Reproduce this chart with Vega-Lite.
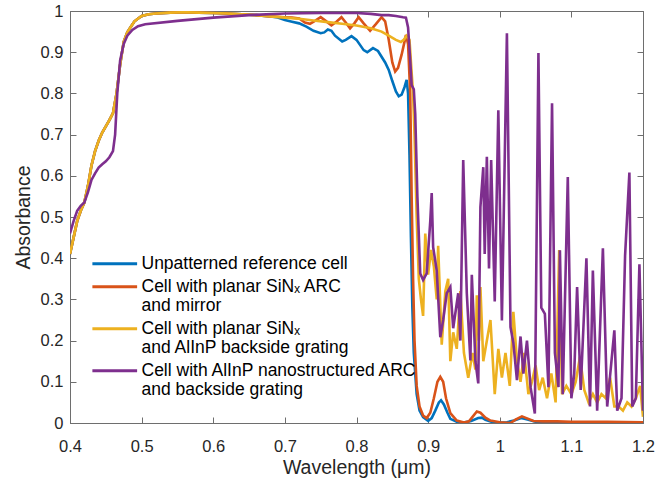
{
  "$schema": "https://vega.github.io/schema/vega-lite/v6.json",
  "width": 573,
  "height": 412,
  "autosize": {"type": "none"},
  "padding": {"left": 70, "top": 11, "right": 14, "bottom": 59},
  "background": "white",
  "config": {
    "font": "Liberation Sans",
    "view": {"stroke": "#6e6e6e", "strokeWidth": 1},
    "axis": {"grid": false, "domainColor": "#6e6e6e", "tickColor": "#6e6e6e", "labelColor": "#262626", "titleColor": "#262626", "labelFontSize": 16.5, "titleFontSize": 19.5, "titleFontWeight": "normal", "tickSize": -6, "domain": true}
  },
  "datasets": {
    "curves": [
      {"s":"a","wl":0.400,"a":0.41},{"s":"a","wl":0.405,"a":0.45},{"s":"a","wl":0.410,"a":0.49},{"s":"a","wl":0.415,"a":0.515},{"s":"a","wl":0.420,"a":0.535},{"s":"a","wl":0.425,"a":0.575},{"s":"a","wl":0.430,"a":0.625},{"s":"a","wl":0.435,"a":0.66},{"s":"a","wl":0.440,"a":0.685},{"s":"a","wl":0.445,"a":0.705},{"s":"a","wl":0.450,"a":0.72},{"s":"a","wl":0.455,"a":0.735},{"s":"a","wl":0.460,"a":0.752},{"s":"a","wl":0.465,"a":0.80},{"s":"a","wl":0.470,"a":0.87},{"s":"a","wl":0.475,"a":0.925},{"s":"a","wl":0.480,"a":0.948},{"s":"a","wl":0.485,"a":0.962},{"s":"a","wl":0.490,"a":0.975},{"s":"a","wl":0.500,"a":0.988},{"s":"a","wl":0.510,"a":0.992},{"s":"a","wl":0.520,"a":0.994},{"s":"a","wl":0.540,"a":0.996},{"s":"a","wl":0.560,"a":0.997},{"s":"a","wl":0.580,"a":0.996},{"s":"a","wl":0.600,"a":0.995},{"s":"a","wl":0.620,"a":0.994},{"s":"a","wl":0.640,"a":0.992},{"s":"a","wl":0.660,"a":0.99},{"s":"a","wl":0.680,"a":0.987},
      {"s":"a","wl":0.690,"a":0.984},{"s":"a","wl":0.700,"a":0.978},{"s":"a","wl":0.710,"a":0.974},{"s":"a","wl":0.720,"a":0.970},{"s":"a","wl":0.730,"a":0.962},{"s":"a","wl":0.740,"a":0.952},{"s":"a","wl":0.750,"a":0.946},{"s":"a","wl":0.755,"a":0.948},{"s":"a","wl":0.760,"a":0.955},{"s":"a","wl":0.765,"a":0.952},{"s":"a","wl":0.770,"a":0.94},{"s":"a","wl":0.780,"a":0.926},{"s":"a","wl":0.785,"a":0.93},{"s":"a","wl":0.793,"a":0.939},{"s":"a","wl":0.800,"a":0.93},{"s":"a","wl":0.810,"a":0.905},{"s":"a","wl":0.815,"a":0.9},{"s":"a","wl":0.823,"a":0.91},{"s":"a","wl":0.830,"a":0.903},{"s":"a","wl":0.840,"a":0.875},{"s":"a","wl":0.845,"a":0.857},{"s":"a","wl":0.850,"a":0.83},{"s":"a","wl":0.855,"a":0.805},{"s":"a","wl":0.859,"a":0.793},{"s":"a","wl":0.863,"a":0.797},{"s":"a","wl":0.867,"a":0.815},{"s":"a","wl":0.870,"a":0.833},{"s":"a","wl":0.872,"a":0.80},{"s":"a","wl":0.874,"a":0.65},{"s":"a","wl":0.876,"a":0.45},{"s":"a","wl":0.878,"a":0.28},{"s":"a","wl":0.880,"a":0.17},{"s":"a","wl":0.884,"a":0.07},{"s":"a","wl":0.888,"a":0.03},{"s":"a","wl":0.893,"a":0.014},{"s":"a","wl":0.900,"a":0.005},{"s":"a","wl":0.905,"a":0.012},{"s":"a","wl":0.910,"a":0.03},{"s":"a","wl":0.915,"a":0.05},{"s":"a","wl":0.918,"a":0.055},{"s":"a","wl":0.922,"a":0.045},{"s":"a","wl":0.927,"a":0.025},{"s":"a","wl":0.931,"a":0.01},{"s":"a","wl":0.940,"a":0.003},{"s":"a","wl":0.950,"a":0.001},{"s":"a","wl":0.960,"a":0.005},{"s":"a","wl":0.970,"a":0.012},{"s":"a","wl":0.975,"a":0.013},{"s":"a","wl":0.980,"a":0.008},{"s":"a","wl":0.990,"a":0.002},{"s":"a","wl":1.000,"a":0.001},{"s":"a","wl":1.010,"a":0.002},{"s":"a","wl":1.020,"a":0.006},{"s":"a","wl":1.030,"a":0.012},{"s":"a","wl":1.040,"a":0.008},{"s":"a","wl":1.050,"a":0.003},{"s":"a","wl":1.070,"a":0.002},{"s":"a","wl":1.100,"a":0.001},{"s":"a","wl":1.150,"a":0.001},{"s":"a","wl":1.200,"a":0.0005},

      {"s":"b","wl":0.400,"a":0.41},{"s":"b","wl":0.405,"a":0.45},{"s":"b","wl":0.410,"a":0.49},{"s":"b","wl":0.415,"a":0.515},{"s":"b","wl":0.420,"a":0.535},{"s":"b","wl":0.425,"a":0.575},{"s":"b","wl":0.430,"a":0.625},{"s":"b","wl":0.435,"a":0.66},{"s":"b","wl":0.440,"a":0.685},{"s":"b","wl":0.445,"a":0.705},{"s":"b","wl":0.450,"a":0.72},{"s":"b","wl":0.455,"a":0.735},{"s":"b","wl":0.460,"a":0.752},{"s":"b","wl":0.465,"a":0.80},{"s":"b","wl":0.470,"a":0.87},{"s":"b","wl":0.475,"a":0.925},{"s":"b","wl":0.480,"a":0.948},{"s":"b","wl":0.485,"a":0.962},{"s":"b","wl":0.490,"a":0.975},{"s":"b","wl":0.500,"a":0.988},{"s":"b","wl":0.510,"a":0.992},{"s":"b","wl":0.520,"a":0.994},{"s":"b","wl":0.540,"a":0.996},{"s":"b","wl":0.560,"a":0.997},{"s":"b","wl":0.580,"a":0.996},{"s":"b","wl":0.600,"a":0.995},{"s":"b","wl":0.620,"a":0.994},{"s":"b","wl":0.640,"a":0.992},{"s":"b","wl":0.660,"a":0.99},{"s":"b","wl":0.680,"a":0.987},
      {"s":"b","wl":0.690,"a":0.986},{"s":"b","wl":0.700,"a":0.985},{"s":"b","wl":0.710,"a":0.984},{"s":"b","wl":0.720,"a":0.982},{"s":"b","wl":0.728,"a":0.972},{"s":"b","wl":0.735,"a":0.969},{"s":"b","wl":0.742,"a":0.976},{"s":"b","wl":0.750,"a":0.985},{"s":"b","wl":0.757,"a":0.976},{"s":"b","wl":0.765,"a":0.965},{"s":"b","wl":0.772,"a":0.974},{"s":"b","wl":0.779,"a":0.985},{"s":"b","wl":0.785,"a":0.972},{"s":"b","wl":0.791,"a":0.958},{"s":"b","wl":0.797,"a":0.97},{"s":"b","wl":0.803,"a":0.985},{"s":"b","wl":0.810,"a":0.97},{"s":"b","wl":0.819,"a":0.952},{"s":"b","wl":0.827,"a":0.968},{"s":"b","wl":0.835,"a":0.985},{"s":"b","wl":0.840,"a":0.975},{"s":"b","wl":0.845,"a":0.93},{"s":"b","wl":0.850,"a":0.875},{"s":"b","wl":0.854,"a":0.853},{"s":"b","wl":0.858,"a":0.862},{"s":"b","wl":0.863,"a":0.894},{"s":"b","wl":0.867,"a":0.925},{"s":"b","wl":0.869,"a":0.942},{"s":"b","wl":0.872,"a":0.92},{"s":"b","wl":0.875,"a":0.8},{"s":"b","wl":0.877,"a":0.55},{"s":"b","wl":0.879,"a":0.35},{"s":"b","wl":0.881,"a":0.2},{"s":"b","wl":0.884,"a":0.09},{"s":"b","wl":0.888,"a":0.04},{"s":"b","wl":0.893,"a":0.018},{"s":"b","wl":0.898,"a":0.012},{"s":"b","wl":0.903,"a":0.025},{"s":"b","wl":0.908,"a":0.06},{"s":"b","wl":0.913,"a":0.1},{"s":"b","wl":0.917,"a":0.112},{"s":"b","wl":0.921,"a":0.1},{"s":"b","wl":0.925,"a":0.06},{"s":"b","wl":0.931,"a":0.024},{"s":"b","wl":0.940,"a":0.006},{"s":"b","wl":0.950,"a":0.001},{"s":"b","wl":0.957,"a":0.004},{"s":"b","wl":0.962,"a":0.015},{"s":"b","wl":0.968,"a":0.028},{"s":"b","wl":0.973,"a":0.025},{"s":"b","wl":0.980,"a":0.013},{"s":"b","wl":0.987,"a":0.006},{"s":"b","wl":1.000,"a":0.002},{"s":"b","wl":1.015,"a":0.0},{"s":"b","wl":1.022,"a":0.008},{"s":"b","wl":1.031,"a":0.016},{"s":"b","wl":1.040,"a":0.01},{"s":"b","wl":1.047,"a":0.005},{"s":"b","wl":1.060,"a":0.004},{"s":"b","wl":1.080,"a":0.004},{"s":"b","wl":1.100,"a":0.003},{"s":"b","wl":1.150,"a":0.003},{"s":"b","wl":1.200,"a":0.002},

      {"s":"c","wl":0.400,"a":0.41},{"s":"c","wl":0.405,"a":0.45},{"s":"c","wl":0.410,"a":0.49},{"s":"c","wl":0.415,"a":0.515},{"s":"c","wl":0.420,"a":0.535},{"s":"c","wl":0.425,"a":0.575},{"s":"c","wl":0.430,"a":0.625},{"s":"c","wl":0.435,"a":0.66},{"s":"c","wl":0.440,"a":0.685},{"s":"c","wl":0.445,"a":0.705},{"s":"c","wl":0.450,"a":0.72},{"s":"c","wl":0.455,"a":0.735},{"s":"c","wl":0.460,"a":0.752},{"s":"c","wl":0.465,"a":0.80},{"s":"c","wl":0.470,"a":0.87},{"s":"c","wl":0.475,"a":0.925},{"s":"c","wl":0.480,"a":0.948},{"s":"c","wl":0.485,"a":0.962},{"s":"c","wl":0.490,"a":0.975},{"s":"c","wl":0.500,"a":0.988},{"s":"c","wl":0.510,"a":0.992},{"s":"c","wl":0.520,"a":0.994},{"s":"c","wl":0.540,"a":0.996},{"s":"c","wl":0.560,"a":0.997},{"s":"c","wl":0.580,"a":0.996},{"s":"c","wl":0.600,"a":0.995},{"s":"c","wl":0.620,"a":0.994},{"s":"c","wl":0.640,"a":0.992},{"s":"c","wl":0.660,"a":0.99},{"s":"c","wl":0.680,"a":0.987},
      {"s":"c","wl":0.700,"a":0.984},{"s":"c","wl":0.720,"a":0.981},{"s":"c","wl":0.740,"a":0.977},{"s":"c","wl":0.760,"a":0.973},{"s":"c","wl":0.780,"a":0.969},{"s":"c","wl":0.800,"a":0.965},{"s":"c","wl":0.820,"a":0.958},{"s":"c","wl":0.835,"a":0.95},{"s":"c","wl":0.845,"a":0.94},{"s":"c","wl":0.855,"a":0.93},{"s":"c","wl":0.862,"a":0.925},{"s":"c","wl":0.866,"a":0.93},{"s":"c","wl":0.870,"a":0.94},{"s":"c","wl":0.874,"a":0.93},{"s":"c","wl":0.877,"a":0.85},{"s":"c","wl":0.879,"a":0.80},{"s":"c","wl":0.881,"a":0.7},{"s":"c","wl":0.884,"a":0.5},{"s":"c","wl":0.887,"a":0.35},{"s":"c","wl":0.890,"a":0.3},{"s":"c","wl":0.893,"a":0.26},{"s":"c","wl":0.896,"a":0.46},{"s":"c","wl":0.900,"a":0.36},{"s":"c","wl":0.904,"a":0.42},{"s":"c","wl":0.908,"a":0.38},{"s":"c","wl":0.912,"a":0.3},{"s":"c","wl":0.914,"a":0.43},{"s":"c","wl":0.919,"a":0.19},{"s":"c","wl":0.924,"a":0.32},{"s":"c","wl":0.928,"a":0.35},{"s":"c","wl":0.931,"a":0.15},{"s":"c","wl":0.935,"a":0.22},{"s":"c","wl":0.940,"a":0.18},{"s":"c","wl":0.945,"a":0.32},{"s":"c","wl":0.950,"a":0.17},{"s":"c","wl":0.956,"a":0.11},{"s":"c","wl":0.962,"a":0.17},{"s":"c","wl":0.966,"a":0.13},{"s":"c","wl":0.968,"a":0.31},{"s":"c","wl":0.971,"a":0.2},{"s":"c","wl":0.973,"a":0.33},{"s":"c","wl":0.977,"a":0.15},{"s":"c","wl":0.983,"a":0.21},{"s":"c","wl":0.987,"a":0.25},{"s":"c","wl":0.993,"a":0.07},{"s":"c","wl":0.998,"a":0.18},{"s":"c","wl":1.003,"a":0.11},{"s":"c","wl":1.008,"a":0.17},{"s":"c","wl":1.014,"a":0.09},{"s":"c","wl":1.019,"a":0.27},{"s":"c","wl":1.024,"a":0.15},{"s":"c","wl":1.029,"a":0.1},{"s":"c","wl":1.034,"a":0.17},{"s":"c","wl":1.040,"a":0.07},{"s":"c","wl":1.045,"a":0.1},{"s":"c","wl":1.050,"a":0.14},{"s":"c","wl":1.055,"a":0.08},{"s":"c","wl":1.060,"a":0.11},{"s":"c","wl":1.066,"a":0.06},{"s":"c","wl":1.072,"a":0.12},{"s":"c","wl":1.078,"a":0.05},{"s":"c","wl":1.083,"a":0.42},{"s":"c","wl":1.087,"a":0.07},{"s":"c","wl":1.093,"a":0.09},{"s":"c","wl":1.100,"a":0.07},{"s":"c","wl":1.106,"a":0.1},{"s":"c","wl":1.112,"a":0.16},{"s":"c","wl":1.118,"a":0.08},{"s":"c","wl":1.124,"a":0.05},{"s":"c","wl":1.130,"a":0.07},{"s":"c","wl":1.136,"a":0.05},{"s":"c","wl":1.142,"a":0.07},{"s":"c","wl":1.148,"a":0.06},{"s":"c","wl":1.154,"a":0.11},{"s":"c","wl":1.160,"a":0.04},{"s":"c","wl":1.166,"a":0.04},{"s":"c","wl":1.172,"a":0.03},{"s":"c","wl":1.178,"a":0.05},{"s":"c","wl":1.184,"a":0.04},{"s":"c","wl":1.190,"a":0.06},{"s":"c","wl":1.196,"a":0.09},{"s":"c","wl":1.200,"a":0.015},

      {"s":"d","wl":0.400,"a":0.46},{"s":"d","wl":0.405,"a":0.49},{"s":"d","wl":0.410,"a":0.515},{"s":"d","wl":0.415,"a":0.527},{"s":"d","wl":0.420,"a":0.535},{"s":"d","wl":0.425,"a":0.56},{"s":"d","wl":0.430,"a":0.59},{"s":"d","wl":0.435,"a":0.606},{"s":"d","wl":0.440,"a":0.62},{"s":"d","wl":0.445,"a":0.628},{"s":"d","wl":0.450,"a":0.635},{"s":"d","wl":0.455,"a":0.645},{"s":"d","wl":0.460,"a":0.66},{"s":"d","wl":0.463,"a":0.7},{"s":"d","wl":0.466,"a":0.8},{"s":"d","wl":0.470,"a":0.88},{"s":"d","wl":0.475,"a":0.92},{"s":"d","wl":0.480,"a":0.94},{"s":"d","wl":0.487,"a":0.954},{"s":"d","wl":0.495,"a":0.963},{"s":"d","wl":0.505,"a":0.968},{"s":"d","wl":0.550,"a":0.976},{"s":"d","wl":0.600,"a":0.984},{"s":"d","wl":0.650,"a":0.99},{"s":"d","wl":0.700,"a":0.994},{"s":"d","wl":0.750,"a":0.995},{"s":"d","wl":0.800,"a":0.995},{"s":"d","wl":0.820,"a":0.993},{"s":"d","wl":0.835,"a":0.99},{"s":"d","wl":0.845,"a":0.99},{"s":"d","wl":0.855,"a":0.988},{"s":"d","wl":0.865,"a":0.985},{"s":"d","wl":0.869,"a":0.984},{"s":"d","wl":0.872,"a":0.96},{"s":"d","wl":0.875,"a":0.88},{"s":"d","wl":0.877,"a":0.82},{"s":"d","wl":0.880,"a":0.81},{"s":"d","wl":0.882,"a":0.75},{"s":"d","wl":0.885,"a":0.55},{"s":"d","wl":0.889,"a":0.363},{"s":"d","wl":0.893,"a":0.347},{"s":"d","wl":0.898,"a":0.363},{"s":"d","wl":0.903,"a":0.49},{"s":"d","wl":0.905,"a":0.558},{"s":"d","wl":0.907,"a":0.427},{"s":"d","wl":0.912,"a":0.37},{"s":"d","wl":0.917,"a":0.208},{"s":"d","wl":0.921,"a":0.25},{"s":"d","wl":0.926,"a":0.315},{"s":"d","wl":0.931,"a":0.33},{"s":"d","wl":0.935,"a":0.23},{"s":"d","wl":0.942,"a":0.315},{"s":"d","wl":0.945,"a":0.2},{"s":"d","wl":0.949,"a":0.638},{"s":"d","wl":0.954,"a":0.315},{"s":"d","wl":0.959,"a":0.152},{"s":"d","wl":0.961,"a":0.36},{"s":"d","wl":0.966,"a":0.15},{"s":"d","wl":0.970,"a":0.096},{"s":"d","wl":0.973,"a":0.524},{"s":"d","wl":0.977,"a":0.621},{"s":"d","wl":0.979,"a":0.41},{"s":"d","wl":0.982,"a":0.646},{"s":"d","wl":0.985,"a":0.375},{"s":"d","wl":0.988,"a":0.638},{"s":"d","wl":0.993,"a":0.295},{"s":"d","wl":0.998,"a":0.759},{"s":"d","wl":1.003,"a":0.249},{"s":"d","wl":1.010,"a":0.946},{"s":"d","wl":1.015,"a":0.233},{"s":"d","wl":1.019,"a":0.195},{"s":"d","wl":1.024,"a":0.104},{"s":"d","wl":1.029,"a":0.21},{"s":"d","wl":1.033,"a":0.12},{"s":"d","wl":1.038,"a":0.2},{"s":"d","wl":1.043,"a":0.087},{"s":"d","wl":1.049,"a":0.023},{"s":"d","wl":1.054,"a":0.898},{"s":"d","wl":1.058,"a":0.28},{"s":"d","wl":1.063,"a":0.265},{"s":"d","wl":1.068,"a":0.087},{"s":"d","wl":1.073,"a":0.776},{"s":"d","wl":1.077,"a":0.17},{"s":"d","wl":1.082,"a":0.087},{"s":"d","wl":1.084,"a":0.419},{"s":"d","wl":1.088,"a":0.07},{"s":"d","wl":1.095,"a":0.597},{"s":"d","wl":1.100,"a":0.06},{"s":"d","wl":1.104,"a":0.12},{"s":"d","wl":1.108,"a":0.33},{"s":"d","wl":1.113,"a":0.08},{"s":"d","wl":1.121,"a":0.40},{"s":"d","wl":1.126,"a":0.04},{"s":"d","wl":1.130,"a":0.37},{"s":"d","wl":1.136,"a":0.03},{"s":"d","wl":1.144,"a":0.424},{"s":"d","wl":1.150,"a":0.04},{"s":"d","wl":1.160,"a":0.225},{"s":"d","wl":1.164,"a":0.03},{"s":"d","wl":1.170,"a":0.06},{"s":"d","wl":1.175,"a":0.407},{"s":"d","wl":1.181,"a":0.608},{"s":"d","wl":1.185,"a":0.04},{"s":"d","wl":1.190,"a":0.06},{"s":"d","wl":1.195,"a":0.385},{"s":"d","wl":1.200,"a":0.03}
    ]
  },
  "data": {"name": "curves"},
  "layer": [
    {
      "mark": {"type": "line", "strokeWidth": 2.6, "clip": true},
      "encoding": {
        "x": {"field": "wl", "type": "quantitative", "scale": {"domain": [0.4, 1.2], "nice": false},
              "axis": {"orient": "bottom", "title": "Wavelength (μm)", "values": [0.4,0.5,0.6,0.7,0.8,0.9,1.0,1.1,1.2], "labelExpr": "format(datum.value, '~g')", "labelPadding": 21, "titlePadding": 4, "labelFlush": false}},
        "y": {"field": "a", "type": "quantitative", "scale": {"domain": [0, 1], "nice": false},
              "axis": {"orient": "left", "title": "Absorbance", "values": [0,0.1,0.2,0.3,0.4,0.5,0.6,0.7,0.8,0.9,1], "labelExpr": "format(datum.value, '~g')", "labelPadding": 13, "titlePadding": 7, "labelFlush": false}},
        "color": {"field": "s", "type": "nominal",
          "scale": {"domain": ["a","b","c","d"], "range": ["#0072BD","#D95319","#EDB120","#7E2F8E"]},
          "legend": {
            "orient": "none", "legendX": 36, "legendY": 244, "title": null,
            "symbolType": "M-4,0H4", "symbolSize": 125, "symbolStrokeWidth": 3,
            "labelFontSize": 17.5, "labelColor": "#000000", "labelLimit": 0, "labelOffset": 18, "rowPadding": 4, "padding": 0,
            "labelExpr": "datum.label == 'a' ? 'Unpatterned reference cell' : datum.label == 'b' ? ['Cell with planar SiNₓ ARC', '\u00a0and mirror'] : datum.label == 'c' ? ['Cell with planar SiNₓ', '\u00a0and AlInP backside grating'] : ['Cell with AlInP nanostructured ARC', '\u00a0and backside grating']",
            "encode": {"labels": {"lineHeight": {"value": 21.5}}}
          }}
      }
    },
    {
      "mark": {"type": "line", "strokeOpacity": 0},
      "encoding": {
        "x": {"field": "wl", "type": "quantitative", "axis": {"orient": "top", "title": null, "labels": false, "values": [0.4,0.5,0.6,0.7,0.8,0.9,1.0,1.1,1.2]}},
        "y": {"field": "a", "type": "quantitative", "axis": {"orient": "right", "title": null, "labels": false, "values": [0,0.1,0.2,0.3,0.4,0.5,0.6,0.7,0.8,0.9,1]}},
        "detail": {"field": "s"}
      }
    }
  ]
}
